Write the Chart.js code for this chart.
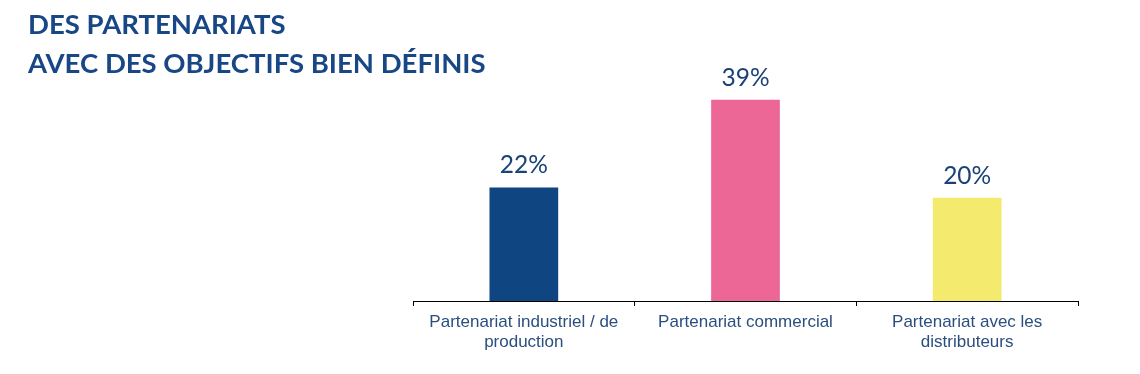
<!DOCTYPE html>
<html>
<head>
<meta charset="utf-8">
<script src="https://cdn.jsdelivr.net/npm/chart.js@4/dist/chart.umd.min.js"></script>
<style>
  html, body { margin: 0; padding: 0; background: #fff; }
  #wrap { position: relative; width: 1140px; height: 374px; }
  #title {
    position: absolute; left: 28px; top: 4px;
    font-family: Lato, sans-serif; font-weight: 700; font-size: 27.5px;
    line-height: 39px; color: #174784; white-space: nowrap;
  }
  #chart { position: absolute; left: 0; top: 0; }
</style>
</head>
<body>
<div id="wrap">
  <canvas id="chart" width="1140" height="374"></canvas>
  <div id="title">DES PARTENARIATS<br>AVEC DES OBJECTIFS BIEN DÉFINIS</div>
</div>
<script>
const categories = [
  ['Partenariat industriel / de', 'production'],
  ['Partenariat commercial'],
  ['Partenariat avec les', 'distributeurs'],
];
const shares = [22, 39, 20];
const barColors = ['#0F4580', '#EC6796', '#F3EA6E'];

const ctx = document.getElementById('chart').getContext('2d');

// percentage labels above each bar
const valueLabels = {
  id: 'valueLabels',
  afterDatasetsDraw(chart) {
    const c = chart.ctx;
    const meta = chart.getDatasetMeta(0);
    c.save();
    c.font = '24.5px Lato, sans-serif';
    c.fillStyle = '#1B4277';
    c.textAlign = 'center';
    c.textBaseline = 'alphabetic';
    meta.data.forEach((bar, i) => {
      c.fillText(shares[i] + '%', bar.x, bar.y - 14);
    });
    c.restore();
  },
};

// eslint-disable-next-line no-undef,no-unused-vars
const chart = new Chart(ctx, {
  type: 'bar',
  data: {
    labels: categories,
    datasets: [{
      data: shares,
      backgroundColor: barColors,
      categoryPercentage: 1,
      barPercentage: 0.31,
    }],
  },
  options: {
    responsive: false,
    animation: false,
    layout: { padding: { left: 413, right: 62, top: 43, bottom: 0 } },
    plugins: { legend: { display: false }, tooltip: { enabled: false } },
    scales: {
      x: {
        afterFit: (scale) => { scale.height = 73; },
        grid: { display: true, drawOnChartArea: false, tickLength: 5, color: '#000', offset: true },
        border: { display: true, color: '#000', width: 1 },
        ticks: {
          color: '#2A4F7F',
          padding: 6,
          font: { family: '"Liberation Sans", Arial, sans-serif', size: 17 },
        },
      },
      y: { display: false, min: 0, max: 50 },
    },
  },
  plugins: [valueLabels],
});
</script>
</body>
</html>
